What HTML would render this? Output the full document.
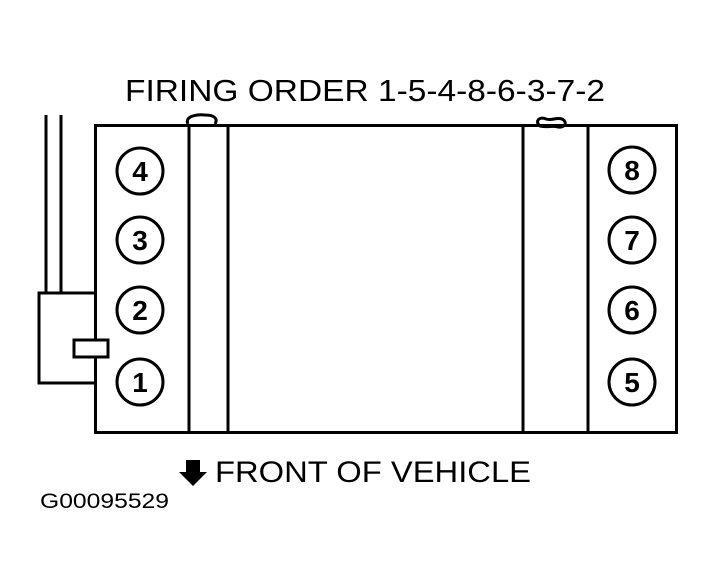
<!DOCTYPE html>
<html><head><style>body{margin:0;background:#fff}svg{display:block}</style></head><body>
<svg width="715" height="585" viewBox="0 0 715 585" xmlns="http://www.w3.org/2000/svg" font-family="Liberation Sans, Arial, sans-serif">
<rect width="715" height="585" fill="#fff"/>
<text x="125" y="101" font-size="31" textLength="480" lengthAdjust="spacingAndGlyphs">FIRING ORDER 1-5-4-8-6-3-7-2</text>
<g fill="none" stroke="#000" stroke-width="3">
<path d="M188 124 C184 116 198 114 205 115 C215 115 218 119 215 124"/>
<path d="M540 126 C534 121 540 116 546 119 C552 121 556 117 562 119 C568 122 565 128 558 127 C552 125 548 128 540 126Z"/>
<rect x="95.5" y="125.5" width="581" height="307"/>
<line x1="189" y1="125" x2="189" y2="432"/>
<line x1="228" y1="125" x2="228" y2="432"/>
<line x1="523" y1="125" x2="523" y2="432"/>
<line x1="588" y1="125" x2="588" y2="432"/>
<line x1="46" y1="115" x2="46" y2="293"/>
<line x1="61" y1="115" x2="61" y2="293"/>
<polyline points="95,293 39,293 39,383 95,383"/>
<rect x="74" y="340" width="34" height="17" fill="#fff"/>
<circle cx="140" cy="171" r="23"/><circle cx="140" cy="240" r="23"/>
<circle cx="140" cy="310" r="23"/><circle cx="140" cy="382" r="23"/>
<circle cx="632" cy="170" r="23"/><circle cx="632" cy="240" r="23"/>
<circle cx="632" cy="310" r="23"/><circle cx="632" cy="382" r="23"/>
</g>
<g font-size="28" font-weight="bold" text-anchor="middle">
<text x="140" y="181">4</text><text x="140" y="250">3</text><text x="140" y="320">2</text><text x="140" y="392">1</text>
<text x="632" y="180">8</text><text x="632" y="250">7</text><text x="632" y="320">6</text><text x="632" y="392">5</text>
</g>
<polygon points="186,460 200,460 200,472 207,472 193,486 179,472 186,472" fill="#000"/>
<text x="215" y="482" font-size="30" textLength="316" lengthAdjust="spacingAndGlyphs">FRONT OF VEHICLE</text>
<text x="40" y="508" font-size="21" textLength="129" lengthAdjust="spacingAndGlyphs">G00095529</text>
</svg>
</body></html>
